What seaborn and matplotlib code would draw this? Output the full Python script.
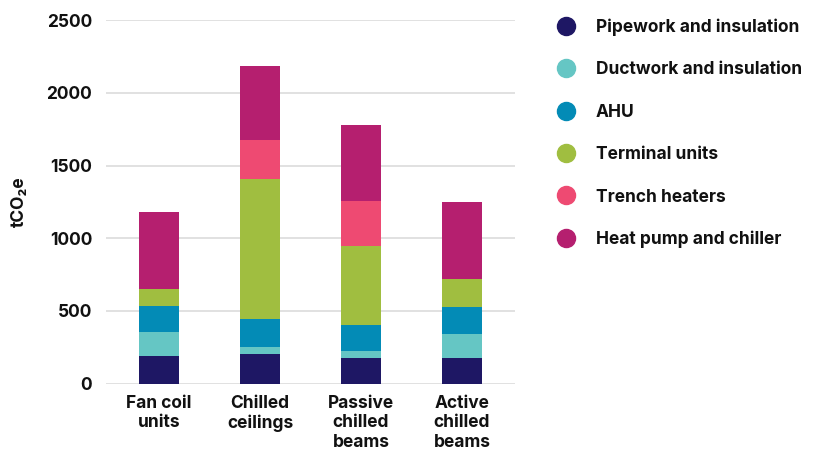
import pandas as pd
import numpy as np
import matplotlib
matplotlib.use("Agg")
import matplotlib.pyplot as plt
from matplotlib.lines import Line2D
import seaborn as sns

# data (tCO2e)
systems = ["Fan coil\nunits", "Chilled\nceilings", "Passive\nchilled\nbeams", "Active\nchilled\nbeams"]
components = ["Pipework and insulation", "Ductwork and insulation", "AHU",
              "Terminal units", "Trench heaters", "Heat pump and chiller"]
pipework = [189, 203, 173, 173]
ductwork = [163, 48, 51, 165]
ahu = [183, 191, 176, 190]
terminal = [115, 963, 546, 191]
trench = [0, 268, 310, 0]
heatpump = [530, 514, 523, 528]
colours = ["#1e1764", "#65c6c4", "#038bb6", "#a0be40", "#ee4a72", "#b51f6f"]

df = pd.DataFrame({"system": systems,
                   components[0]: pipework, components[1]: ductwork, components[2]: ahu,
                   components[3]: terminal, components[4]: trench, components[5]: heatpump})

sns.set_theme(style="white")
plt.rcParams["font.family"] = ["Inter", "DejaVu Sans"]
plt.rcParams["font.weight"] = "bold"
fs = 12.5

fig = plt.figure(figsize=(8.21, 4.5), dpi=100)
ax = fig.add_axes([106/821, 1-383.5/450, 409/821, (383.5-20.3)/450])

# stacked bars: draw cumulative totals from the top layer down
cum = df[components].cumsum(axis=1)
for comp, col in reversed(list(zip(components, colours))):
    sns.barplot(x=df["system"], y=cum[comp], color=col, width=0.4,
                saturation=1, linewidth=0, ax=ax, zorder=3)

ax.set_ylim(0, 2500)
ax.set_xlim(-0.525, 3.525)
ax.set_yticks([0, 500, 1000, 1500, 2000, 2500])
ax.yaxis.grid(True, color="#dcdcdc", linewidth=1.2, zorder=0)
ax.xaxis.grid(False)
for s in ax.spines.values():
    s.set_visible(False)
ax.tick_params(axis="both", length=0, labelsize=fs, labelcolor="#111111")
ax.tick_params(axis="y", pad=10)
ax.tick_params(axis="x", pad=8)
for lab in ax.get_xticklabels() + ax.get_yticklabels():
    lab.set_fontweight("bold")
ax.set_xlabel("")
ax.set_ylabel("tCO₂e", fontsize=fs, fontweight="bold", color="#111111")
ax.yaxis.set_label_coords(-0.19, 0.5)

handles = [Line2D([0], [0], marker="o", linestyle="", markersize=13,
                  markerfacecolor=c, markeredgecolor=c) for c in colours]
leg = fig.legend(handles, components, loc="upper left", bbox_to_anchor=(541.5/821, 1-3/450),
                 frameon=False, handlelength=1.0, handletextpad=1.22, labelspacing=1.46,
                 prop={"size": fs, "weight": "bold"})
for t in leg.get_texts():
    t.set_color("#111111")

fig.savefig("out.png", dpi=100)
